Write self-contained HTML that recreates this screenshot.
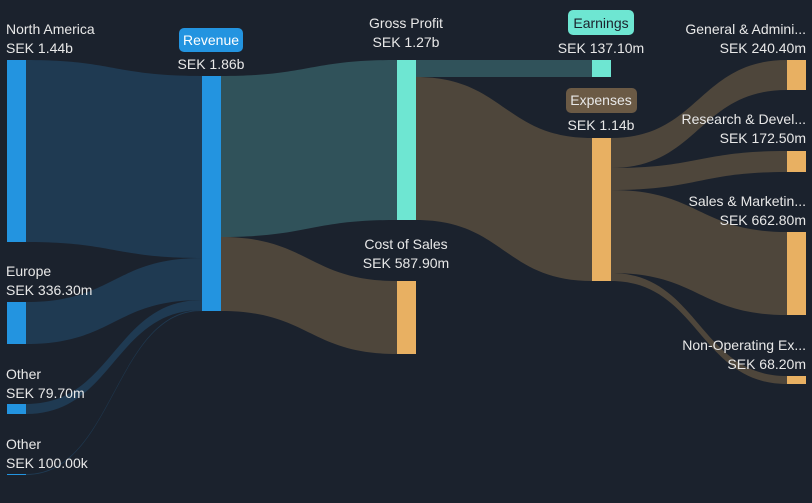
<!DOCTYPE html><html><head><style>
body{margin:0;background:#1b222d;width:812px;height:503px;overflow:hidden;font-family:"Liberation Sans",sans-serif;}
svg{position:absolute;left:0;top:0}
text{font-size:14px;fill:#e8e8e8;font-family:"Liberation Sans",sans-serif}
</style></head><body>
<svg width="812" height="503">
<rect width="812" height="503" fill="#1b222d"/>
<g fill="#1f3a52">
<path d="M26 60 C114 60 114 76 202 76 L202 258 C114 258 114 242 26 242Z"/>
<path d="M26 302 C114 302 114 258 202 258 L202 300 C114 300 114 344 26 344Z"/>
<path d="M26 404 C114 404 114 300 202 300 L202 310 C114 310 114 414 26 414Z"/>
<path d="M26 474 C114 474 114 310 202 310 L202 311 C114 311 114 475 26 475Z"/>
</g>
<path fill="#30525a" d="M221 76 C309 76 309 60 397 60 L397 220 C309 220 309 237 221 237Z"/>
<path fill="#4e463b" d="M221 237 C309 237 309 281 397 281 L397 354 C309 354 309 311 221 311Z"/>
<path fill="#30525a" d="M416 60 L592 60 L592 77 L416 77Z"/>
<path fill="#4e463b" d="M416 77 C504 77 504 138 592 138 L592 281 C504 281 504 220 416 220Z"/>
<g fill="#4e463b">
<path d="M611 138 C699 138 699 60 787 60 L787 90 C699 90 699 168 611 168Z"/>
<path d="M611 168 C699 168 699 151 787 151 L787 172 C699 172 699 190 611 190Z"/>
<path d="M611 190 C699 190 699 232 787 232 L787 315 C699 315 699 273 611 273Z"/>
<path d="M611 273 C699 273 699 376 787 376 L787 384 C699 384 699 281 611 281Z"/>
</g>
<g fill="#2394e0">
<rect x="7" y="60" width="19" height="182"/><rect x="7" y="302" width="19" height="42"/>
<rect x="7" y="404" width="19" height="10"/><rect x="7" y="474" width="19" height="1"/>
<rect x="202" y="76" width="19" height="235"/>
</g>
<g fill="#6ee6d2"><rect x="397" y="60" width="19" height="160"/><rect x="592" y="60" width="19" height="17"/></g>
<g fill="#e8b062"><rect x="397" y="281" width="19" height="73"/><rect x="592" y="138" width="19" height="143"/>
<rect x="787" y="60" width="19" height="30"/><rect x="787" y="151" width="19" height="21"/><rect x="787" y="232" width="19" height="83"/><rect x="787" y="376" width="19" height="8"/></g>
<rect x="179" y="28" width="64" height="24" rx="5" fill="#2394e0"/>
<rect x="568" y="10" width="66" height="25" rx="5" fill="#6ee6d2"/>
<rect x="566" y="88" width="71" height="25" rx="5" fill="#6b5a45"/>
<text x="6" y="34">North America</text><text x="6" y="53">SEK 1.44b</text>
<text x="6" y="276">Europe</text><text x="6" y="295">SEK 336.30m</text>
<text x="6" y="379">Other</text><text x="6" y="398">SEK 79.70m</text>
<text x="6" y="449">Other</text><text x="6" y="468">SEK 100.00k</text>
<text x="211" y="45" text-anchor="middle" fill="#fff" style="fill:#fff">Revenue</text><text x="211" y="69" text-anchor="middle">SEK 1.86b</text>
<text x="406" y="28" text-anchor="middle">Gross Profit</text><text x="406" y="47" text-anchor="middle">SEK 1.27b</text>
<text x="406" y="249" text-anchor="middle">Cost of Sales</text><text x="406" y="268" text-anchor="middle">SEK 587.90m</text>
<text x="601" y="28" text-anchor="middle" style="fill:#1b222d">Earnings</text><text x="601" y="53" text-anchor="middle">SEK 137.10m</text>
<text x="601" y="105" text-anchor="middle">Expenses</text><text x="601" y="130" text-anchor="middle">SEK 1.14b</text>
<text x="806" y="34" text-anchor="end">General &amp; Admini...</text><text x="806" y="53" text-anchor="end">SEK 240.40m</text>
<text x="806" y="124" text-anchor="end">Research &amp; Devel...</text><text x="806" y="143" text-anchor="end">SEK 172.50m</text>
<text x="806" y="206" text-anchor="end">Sales &amp; Marketin...</text><text x="806" y="225" text-anchor="end">SEK 662.80m</text>
<text x="806" y="350" text-anchor="end">Non-Operating Ex...</text><text x="806" y="369" text-anchor="end">SEK 68.20m</text>
</svg></body></html>
